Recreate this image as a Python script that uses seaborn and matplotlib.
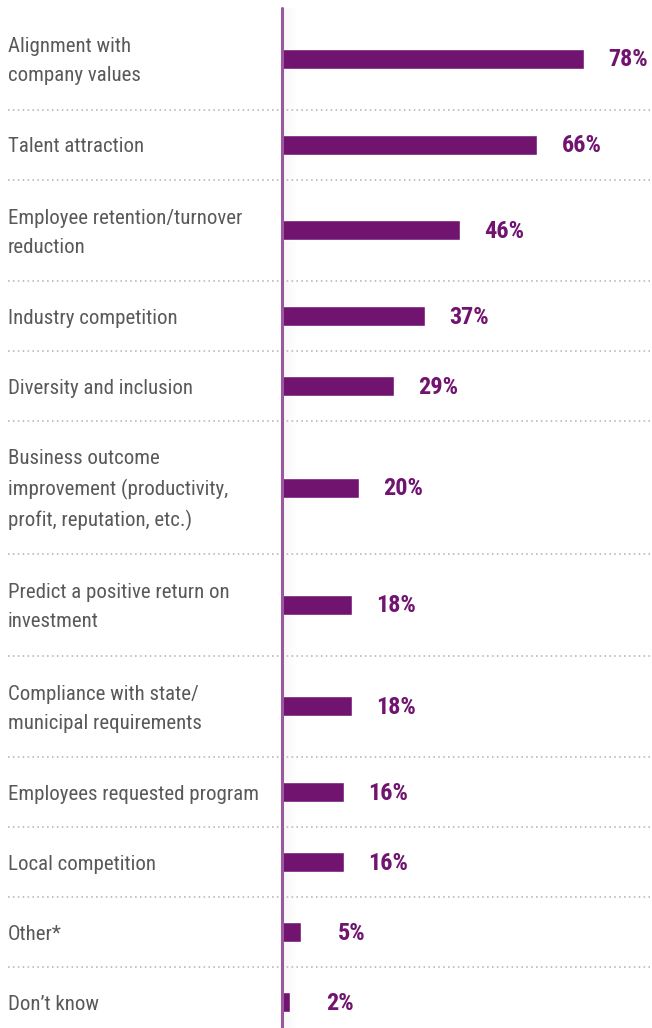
import os
import numpy as np
import matplotlib
matplotlib.use("Agg")
import matplotlib.pyplot as plt
from matplotlib import font_manager as fm
from matplotlib.transforms import blended_transform_factory
import seaborn as sns
import pandas as pd

# Survey reasons and share of respondents (%)
categories = [
    "Alignment with\ncompany values",
    "Talent attraction",
    "Employee retention/turnover\nreduction",
    "Industry competition",
    "Diversity and inclusion",
    "Business outcome\nimprovement (productivity,\nprofit, reputation, etc.)",
    "Predict a positive return on\ninvestment",
    "Compliance with state/\nmunicipal requirements",
    "Employees requested program",
    "Local competition",
    "Other*",
    "Don\u2019t know",
]
values = [78, 66, 46, 37, 29, 20, 18, 18, 16, 16, 5, 2]
value_labels = [f"{v}%" for v in values]

BAR = "#701470"
AXIS = "#9b58a0"
TEXT = "#595959"
DOT = "#b0b0b0"


def narrow_font(bold):
    prefs = ["notosans-condensed", "liberationsansnarrow", "robotocondensed",
             "roboto_condensed", "opensans_condensed", "opensanscondensed",
             "dejavusanscondensed"]
    best = None
    for e in fm.fontManager.ttflist:
        base = os.path.basename(e.fname).lower()
        if not ("narrow" in base or "condensed" in base):
            continue
        if any(w in base for w in ["italic", "oblique", "light", "thin", "medium",
                                   "semibold", "extrabold", "black", "extracondensed",
                                   "semicondensed", "mono", "serif"]):
            continue
        if ("bold" in base) != bold:
            continue
        rank = len(prefs)
        for i, p in enumerate(prefs):
            if base.startswith(p):
                rank = i
                break
        if best is None or rank < best[0]:
            best = (rank, e.fname)
    return best[1] if best else None


reg_path = narrow_font(False)
bold_path = narrow_font(True)
label_fp = fm.FontProperties(fname=reg_path) if reg_path else fm.FontProperties(family="DejaVu Sans")
value_fp = fm.FontProperties(fname=bold_path) if bold_path else fm.FontProperties(family="DejaVu Sans", weight="bold")

sns.set_theme(style="white")

# Row heights grow with the number of text lines in each label
n_lines = [c.count("\n") + 1 for c in categories]
heights = [70 + 31.5 * (n - 1) for n in n_lines]
centers = []
top = 0.0
for h in heights:
    centers.append(top + h / 2)
    top += h
bounds = []
acc = 0.0
for h in heights[:-1]:
    acc += h
    bounds.append(acc)

df = pd.DataFrame({"reason": categories, "pct": values, "pos": centers})

W, H = 652, 1028
fig = plt.figure(figsize=(W / 100, H / 100), dpi=100)

# Soft shading just right of the baseline
shade = fig.add_axes([283 / W, 0, 16 / W, 1020 / H], zorder=0)
grad = np.linspace(0.045, 0.0, 64)[None, :]
rgba = np.zeros((1, 64, 4))
rgba[..., :3] = 0.35
rgba[..., 3] = grad
shade.imshow(rgba, aspect="auto", extent=[0, 1, 0, 1], interpolation="bilinear")
shade.set_axis_off()

ax = fig.add_axes([282 / W, 0, 1 - 282 / W, 1020 / H], zorder=1)
ax.patch.set_visible(False)

sns.barplot(data=df, x="pct", y="pos", orient="h", native_scale=True,
            color=BAR, saturation=1, width=20 / 70, ax=ax, errorbar=None)

ax.set_xlim(0, (W - 282) / 3.87)
ax.set_ylim(1020, 0)
ax.set_axis_off()

# Vertical baseline
ax.axvline(0, color=AXIS, lw=2.2, ymin=0, ymax=1.0, clip_on=False, zorder=5)

# Dotted separators across the full width
tr = blended_transform_factory(fig.transFigure, ax.transData)
for b in bounds:
    ax.plot([8 / W, 1.0], [b, b], transform=tr, color=DOT, lw=1.1,
            linestyle=(0, (1, 2.2)), clip_on=False, zorder=1)

# Category labels on the left
for c, y in zip(categories, centers):
    ax.text(8 / W, y + 2.5, c, transform=tr, ha="left", va="center",
            fontproperties=label_fp, fontsize=15, color=TEXT, linespacing=1.65)

# Value labels
for v, lab, y in zip(values, value_labels, centers):
    ax.annotate(lab, xy=(v, y), xytext=(64, -1), textcoords="offset pixels",
                ha="right", va="center", fontproperties=value_fp, fontsize=17.5,
                color=BAR)

fig.savefig("out.png", dpi=100)
